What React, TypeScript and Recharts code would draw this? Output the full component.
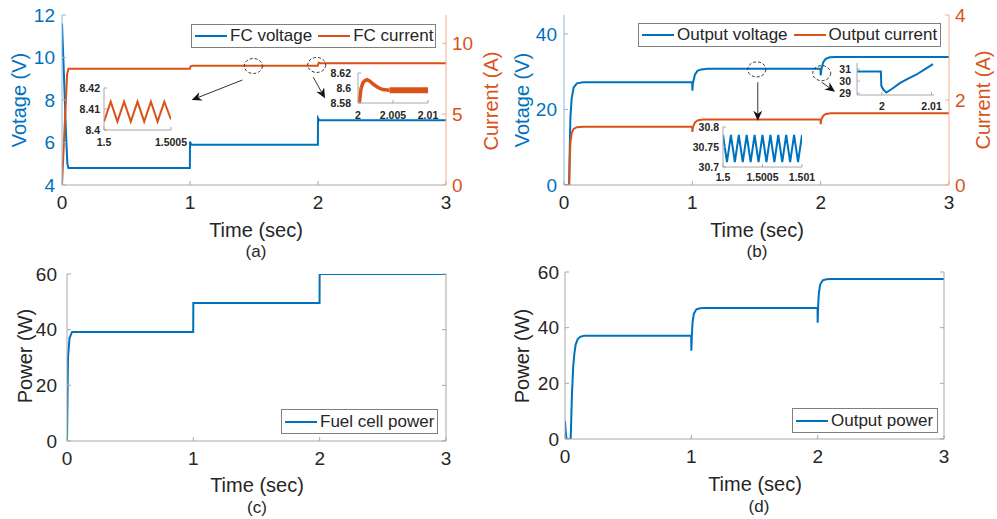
import {
  LineChart, Line, XAxis, YAxis, Legend, ReferenceDot, ReferenceLine, CartesianGrid,
} from 'recharts';

const BLUE = '#0072BD';
const ORANGE = '#D95319';
const BLUE_AXIS = '#86b9e0';
const ORANGE_AXIS = '#f2ad92';
const INK = '#262626';
const FRAME = '#a8a8a8';
const NOTE = '#333333';
const FONT = '"Liberation Sans", Arial, Helvetica, sans-serif';

/* ─── shared ticks ─────────────────────────────────── */
const timeTicks = [0, 1, 2, 3];

/* ─── (a) fuel cell voltage / current ───────────────── */
const fcNames = ['FC voltage', 'FC current'];
const fcVoltageTime = [0, 0.015, 0.03, 0.042, 0.05, 0.999, 1.0, 1.01, 1.999, 2.0, 2.01, 3.0];
const fcVoltage = [11.6, 9.2, 6.6, 5.0, 4.8, 4.8, 6.04, 5.9, 5.9, 7.15, 7.05, 7.05];
const fcCurrentTime = [0, 0.02, 0.04, 0.05, 0.999, 1.005, 1.02, 1.999, 2.005, 2.02, 3.0];
const fcCurrent = [0, 4.0, 7.8, 8.2, 8.2, 8.38, 8.41, 8.41, 8.63, 8.6, 8.6];
const fcVoltageTicks = [4, 6, 8, 10, 12];
const fcCurrentTicks = [0, 5, 10];

// inset: current ripple around t = 1.5 s
const rippleATime = [1.5, 1.50005, 1.5001, 1.50015, 1.5002, 1.50025, 1.5003, 1.50035, 1.5004, 1.50045, 1.5005];
const rippleACurrent = [8.404, 8.4135, 8.404, 8.4135, 8.404, 8.4135, 8.404, 8.4135, 8.404, 8.4135, 8.405];
const rippleATimeTicks = [1.5, 1.5005];
const rippleACurrentTicks = [8.4, 8.41, 8.42];

// inset: current step at t = 2 s
const stepATime = [2.0002, 2.0004, 2.0007, 2.001, 2.0013, 2.0017, 2.0022, 2.0028, 2.0035, 2.0045];
const stepACurrent = [8.58, 8.598, 8.607, 8.61, 8.611, 8.609, 8.605, 8.601, 8.598, 8.597];
const stepABandTime = [2.0045, 2.01];
const stepABand = [8.597, 8.597];
const stepATimeTicks = [2, 2.005, 2.01];
const stepACurrentTicks = [8.58, 8.6, 8.62];

/* ─── (b) output voltage / current ──────────────────── */
const outNames = ['Output voltage', 'Output current'];
const outVoltageTime = [0, 0.04, 0.045, 0.05, 0.06, 0.075, 0.1, 0.15, 0.999, 1.0, 1.005, 1.02, 1.04, 1.07, 1.12, 1.999, 2.0, 2.005, 2.02, 2.04, 2.07, 2.12, 3.0];
const outVoltage = [0, 0, 10, 18, 23, 25.8, 26.9, 27.2, 27.2, 25.0, 27.0, 29.2, 30.2, 30.6, 30.75, 30.75, 29.0, 30.5, 32.5, 33.4, 33.8, 33.9, 33.9];
const outCurrentTime = [0, 0.04, 0.045, 0.05, 0.06, 0.075, 0.1, 0.15, 0.999, 1.0, 1.005, 1.02, 1.04, 1.08, 1.999, 2.0, 2.005, 2.02, 2.04, 2.08, 3.0];
const outCurrent = [0, 0, 0.6, 1.0, 1.22, 1.32, 1.36, 1.37, 1.37, 1.25, 1.36, 1.47, 1.52, 1.54, 1.54, 1.43, 1.54, 1.63, 1.67, 1.69, 1.69];
const outVoltageTicks = [0, 20, 40];
const outCurrentTicks = [0, 2, 4];

// inset: voltage ripple around t = 1.5 s
const rippleBTime = [1.5, 1.50005, 1.5001, 1.50015, 1.5002, 1.50025, 1.5003, 1.50035, 1.5004, 1.50045, 1.5005,
  1.50055, 1.5006, 1.50065, 1.5007, 1.50075, 1.5008, 1.50085, 1.5009, 1.50095, 1.501];
const rippleBVoltage = [30.78, 30.712, 30.78, 30.712, 30.78, 30.712, 30.78, 30.712, 30.78, 30.712, 30.78,
  30.712, 30.78, 30.712, 30.78, 30.712, 30.78, 30.712, 30.78, 30.712, 30.78];
const rippleBTimeTicks = [1.5, 1.5005, 1.501];
const rippleBVoltageTicks = [30.7, 30.75, 30.8];

// inset: voltage dip at t = 2 s
const stepBTime = [1.995, 1.9998, 1.9999, 2.0003, 2.0009, 2.002, 2.0037, 2.0053, 2.007, 2.0087, 2.0103];
const stepBVoltage = [30.8, 30.8, 29.6, 29.3, 29.05, 29.35, 29.85, 30.2, 30.55, 31.0, 31.4];
const stepBTimeTicks = [2, 2.01];
const stepBVoltageTicks = [29, 30, 31];

/* ─── (c) fuel cell power, (d) output power ─────────── */
const fcPowerTime = [0, 0.008, 0.02, 0.04, 0.999, 1.0, 1.999, 2.0, 3.0];
const fcPower = [0, 30, 37, 39.2, 39.2, 49.6, 49.6, 60, 60];
const outPowerTime = [0, 0.005, 0.012, 0.045, 0.05, 0.055, 0.065, 0.075, 0.085, 0.1, 0.12, 0.15, 0.999, 1.0,
  1.005, 1.01, 1.02, 1.04, 1.07, 1.1, 1.999, 2.0, 2.005, 2.01, 2.02, 2.04, 2.07, 2.1, 3.0];
const outPower = [6.5, 3, 0, 0, 8, 16, 26, 31, 34, 35.8, 36.7, 37.1, 37.1, 31.7,
  38, 42, 45, 46.6, 47.0, 47.1, 47.1, 41.8, 49, 52.5, 55.5, 57, 57.4, 57.5, 57.5];
const powerTicks = [0, 20, 40, 60];

type Pt = { t: number; v: number };
const zip = (t: number[], v: number[]): Pt[] => t.map((x, k) => ({ t: x, v: v[k] }));
const blank = () => '';

/* ─── little drawing helpers ────────────────────────── */
const DashedRing = (p: any) => (
  <ellipse cx={p.cx} cy={p.cy} rx={9} ry={7.5} fill="none" stroke={NOTE} strokeWidth={1} strokeDasharray="3 2" />
);

const Arrow = (p: any) => {
  const { x1, y1, x2, y2 } = p;
  if ([x1, y1, x2, y2].some((n) => n == null || Number.isNaN(n))) return null;
  const a = Math.atan2(y2 - y1, x2 - x1);
  const c = Math.cos(a), s = Math.sin(a);
  const len = 10, half = 4.5, notch = 7;
  const bx = x2 - len * c, by = y2 - len * s;
  const nx = x2 - notch * c, ny = y2 - notch * s;
  const pts = `${x2},${y2} ${bx - half * s},${by + half * c} ${nx},${ny} ${bx + half * s},${by - half * c}`;
  return (
    <g>
      <line x1={x1} y1={y1} x2={nx} y2={ny} stroke={NOTE} strokeWidth={1} />
      <polygon points={pts} fill="#111" />
    </g>
  );
};

function LegendBox({ payload, order }: any) {
  const items = [...(payload ?? [])].sort((p: any, q: any) => order.indexOf(p.value) - order.indexOf(q.value));
  return (
    <div style={{
      display: 'flex', alignItems: 'center', height: '100%', boxSizing: 'border-box',
      border: '1px solid #7f7f7f', background: '#fff', padding: '0 3px',
      fontSize: 17, color: INK, whiteSpace: 'nowrap', fontFamily: FONT,
    }}>
      {items.map((e: any) => (
        <span key={e.value} style={{ display: 'flex', alignItems: 'center', marginRight: 6 }}>
          <span style={{ width: 32, height: 2, background: e.color, marginRight: 3 }} />
          {e.value}
        </span>
      ))}
    </div>
  );
}

function Caption({ x, y, text, color = INK, size = 20, vertical = false }: any) {
  return (
    <div style={{
      position: 'absolute', left: x, top: y, color, fontSize: size, lineHeight: 1, whiteSpace: 'nowrap',
      transform: `translate(-50%, -50%)${vertical ? ' rotate(-90deg)' : ''}`,
    }}>{text}</div>
  );
}

function Inset({ x, y, w, h, yw, xDomain, xTicks, yDomain, yTicks, xGap, yGap, children }: any) {
  const tick = { fill: INK, fontSize: 10.5, fontWeight: 700 };
  const edge = { stroke: FRAME };
  const top = 8;
  return (
    <div style={{ position: 'absolute', left: x - yw, top: y - top }}>
      <LineChart width={yw + w + 24} height={h + top + 28} margin={{ top, right: 24, bottom: 0, left: 0 }}>
        <CartesianGrid fill="#fff" horizontal={false} vertical={false} />
        <XAxis type="number" dataKey="t" domain={xDomain} ticks={xTicks} interval={0} height={28}
          tickSize={-3} tickMargin={xGap} tick={tick} axisLine={edge} tickLine={edge} allowDataOverflow />
        <XAxis xAxisId="top" orientation="top" type="number" dataKey="t" domain={xDomain} ticks={xTicks} height={0}
          tickSize={-3} tickFormatter={blank} axisLine={edge} tickLine={edge} allowDataOverflow />
        <YAxis type="number" domain={yDomain} ticks={yTicks} interval={0} width={yw}
          tickSize={-3} tickMargin={yGap} tick={tick} axisLine={edge} tickLine={edge} allowDataOverflow />
        <YAxis yAxisId="edge" orientation="right" type="number" domain={yDomain} ticks={yTicks} width={0}
          tickSize={-3} tickFormatter={blank} axisLine={edge} tickLine={edge} allowDataOverflow />
        {children}
      </LineChart>
    </div>
  );
}

const timeAxis = {
  type: 'number' as const, dataKey: 't', domain: [0, 3], ticks: timeTicks, interval: 0 as const,
  tickSize: -4, allowDataOverflow: true,
};
const frame = { stroke: FRAME };
const mainTick = { fill: INK, fontSize: 19 };

export default function App() {
  return (
    <div style={{ position: 'absolute', left: 0, top: 0, width: 997, height: 519, background: '#fff', fontFamily: FONT }}>
      {/* (a) */}
      <div style={{ position: 'absolute', left: 0, top: 0 }}>
        <LineChart width={497} height={225} margin={{ top: 15, right: 0, bottom: 0, left: 0 }}>
          <XAxis {...timeAxis} height={40} tickMargin={15} tick={mainTick} axisLine={frame} tickLine={frame} />
          <XAxis {...timeAxis} xAxisId="top" orientation="top" height={0} tickFormatter={blank} axisLine={frame} tickLine={frame} />
          <YAxis yAxisId="v" type="number" domain={[4, 12]} ticks={fcVoltageTicks} interval={0} width={62}
            tickSize={-4} tickMargin={11} tick={{ ...mainTick, fill: BLUE }}
            axisLine={{ stroke: BLUE_AXIS }} tickLine={{ stroke: BLUE_AXIS }} allowDataOverflow />
          <YAxis yAxisId="i" orientation="right" type="number" domain={[0, 12]} ticks={fcCurrentTicks} interval={0} width={51}
            tickSize={-4} tickMargin={10} tick={{ ...mainTick, fill: ORANGE }}
            axisLine={{ stroke: ORANGE_AXIS }} tickLine={{ stroke: ORANGE_AXIS }} allowDataOverflow />
          <Line yAxisId="v" data={zip(fcVoltageTime, fcVoltage)} dataKey="v" name={fcNames[0]} stroke={BLUE}
            strokeWidth={2} dot={false} activeDot={false} isAnimationActive={false} />
          <Line yAxisId="i" data={zip(fcCurrentTime, fcCurrent)} dataKey="v" name={fcNames[1]} stroke={ORANGE}
            strokeWidth={2} dot={false} activeDot={false} isAnimationActive={false} />
          <ReferenceDot yAxisId="v" x={1.495} y={9.6} shape={DashedRing} />
          <ReferenceDot yAxisId="v" x={1.99} y={9.65} shape={DashedRing} />
          <ReferenceLine yAxisId="v" segment={[{ x: 1.409, y: 8.94 }, { x: 1.013, y: 8.0 }]} shape={Arrow} />
          <ReferenceLine yAxisId="v" segment={[{ x: 1.963, y: 9.07 }, { x: 2.055, y: 8.08 }]} shape={Arrow} />
          <Legend layout="vertical" verticalAlign="middle" align="center"
            content={(p: any) => <LegendBox {...p} order={fcNames} />}
            wrapperStyle={{ left: 191, top: 24, width: 245, height: 24 }} />
        </LineChart>
      </div>

      {/* (b) */}
      <div style={{ position: 'absolute', left: 497, top: 0 }}>
        <LineChart width={500} height={225} margin={{ top: 15, right: 0, bottom: 0, left: 0 }}>
          <XAxis {...timeAxis} height={40} tickMargin={15} tick={mainTick} axisLine={frame} tickLine={frame} />
          <XAxis {...timeAxis} xAxisId="top" orientation="top" height={0} tickFormatter={blank} axisLine={frame} tickLine={frame} />
          <YAxis yAxisId="v" type="number" domain={[0, 45]} ticks={outVoltageTicks} interval={0} width={67}
            tickSize={-4} tickMargin={11} tick={{ ...mainTick, fill: BLUE }}
            axisLine={{ stroke: BLUE_AXIS }} tickLine={{ stroke: BLUE_AXIS }} allowDataOverflow />
          <YAxis yAxisId="i" orientation="right" type="number" domain={[0, 4]} ticks={outCurrentTicks} interval={0} width={48}
            tickSize={-4} tickMargin={10} tick={{ ...mainTick, fill: ORANGE }}
            axisLine={{ stroke: ORANGE_AXIS }} tickLine={{ stroke: ORANGE_AXIS }} allowDataOverflow />
          <Line yAxisId="v" data={zip(outVoltageTime, outVoltage)} dataKey="v" name={outNames[0]} stroke={BLUE}
            strokeWidth={2} dot={false} activeDot={false} isAnimationActive={false} />
          <Line yAxisId="i" data={zip(outCurrentTime, outCurrent)} dataKey="v" name={outNames[1]} stroke={ORANGE}
            strokeWidth={2} dot={false} activeDot={false} isAnimationActive={false} />
          <ReferenceDot yAxisId="v" x={1.502} y={30.6} shape={DashedRing} />
          <ReferenceDot yAxisId="v" x={2.008} y={29.6} shape={DashedRing} />
          <ReferenceLine yAxisId="v" segment={[{ x: 1.51, y: 27.2 }, { x: 1.51, y: 17.0 }]} shape={Arrow} />
          <ReferenceLine yAxisId="v" segment={[{ x: 2.008, y: 27.2 }, { x: 2.112, y: 24.7 }]} shape={Arrow} />
          <Legend layout="vertical" verticalAlign="middle" align="center"
            content={(p: any) => <LegendBox {...p} order={outNames} />}
            wrapperStyle={{ left: 141, top: 23, width: 303, height: 24 }} />
        </LineChart>
      </div>

      {/* (c) */}
      <div style={{ position: 'absolute', left: 0, top: 259 }}>
        <LineChart width={497} height={222} margin={{ top: 15, right: 0, bottom: 0, left: 0 }}>
          <XAxis {...timeAxis} height={40} tickMargin={15} tick={mainTick} axisLine={frame} tickLine={frame} />
          <XAxis {...timeAxis} xAxisId="top" orientation="top" height={0} tickFormatter={blank} axisLine={frame} tickLine={frame} />
          <YAxis type="number" domain={[0, 60]} ticks={powerTicks} interval={0} width={67}
            tickSize={-4} tickMargin={14} tick={mainTick} axisLine={frame} tickLine={frame} allowDataOverflow />
          <YAxis yAxisId="edge" orientation="right" type="number" domain={[0, 60]} ticks={powerTicks} width={51}
            tickSize={-4} tickFormatter={blank} axisLine={frame} tickLine={frame} allowDataOverflow />
          <Line data={zip(fcPowerTime, fcPower)} dataKey="v" name="Fuel cell power" stroke={BLUE}
            strokeWidth={2} dot={false} activeDot={false} isAnimationActive={false} />
          <Legend layout="vertical" verticalAlign="middle" align="center"
            content={(p: any) => <LegendBox {...p} order={['Fuel cell power']} />}
            wrapperStyle={{ left: 281, top: 150, width: 157, height: 25 }} />
        </LineChart>
      </div>

      {/* (d) */}
      <div style={{ position: 'absolute', left: 497, top: 257 }}>
        <LineChart width={500} height={222} margin={{ top: 15, right: 0, bottom: 0, left: 0 }}>
          <XAxis {...timeAxis} height={40} tickMargin={15} tick={mainTick} axisLine={frame} tickLine={frame} />
          <XAxis {...timeAxis} xAxisId="top" orientation="top" height={0} tickFormatter={blank} axisLine={frame} tickLine={frame} />
          <YAxis type="number" domain={[0, 60]} ticks={powerTicks} interval={0} width={68}
            tickSize={-4} tickMargin={10} tick={mainTick} axisLine={frame} tickLine={frame} allowDataOverflow />
          <YAxis yAxisId="edge" orientation="right" type="number" domain={[0, 60]} ticks={powerTicks} width={53}
            tickSize={-4} tickFormatter={blank} axisLine={frame} tickLine={frame} allowDataOverflow />
          <Line data={zip(outPowerTime, outPower)} dataKey="v" name="Output power" stroke={BLUE}
            strokeWidth={2} dot={false} activeDot={false} isAnimationActive={false} />
          <Legend layout="vertical" verticalAlign="middle" align="center"
            content={(p: any) => <LegendBox {...p} order={['Output power']} />}
            wrapperStyle={{ left: 295, top: 151, width: 146, height: 25 }} />
        </LineChart>
      </div>

      {/* insets */}
      <Inset x={104} y={88} w={67} h={42} yw={34} xDomain={[1.5, 1.5005]} xTicks={rippleATimeTicks}
        yDomain={[8.4, 8.42]} yTicks={rippleACurrentTicks} xGap={12} yGap={7}>
        <Line data={zip(rippleATime, rippleACurrent)} dataKey="v" stroke={ORANGE} strokeWidth={2}
          dot={false} activeDot={false} isAnimationActive={false} />
      </Inset>
      <Inset x={358} y={73} w={70} h={30} yw={36} xDomain={[2, 2.01]} xTicks={stepATimeTicks}
        yDomain={[8.58, 8.62]} yTicks={stepACurrentTicks} xGap={12} yGap={10}>
        <Line data={zip(stepATime, stepACurrent)} dataKey="v" stroke={ORANGE} strokeWidth={3.5}
          dot={false} activeDot={false} isAnimationActive={false} />
        <Line data={zip(stepABandTime, stepABand)} dataKey="v" stroke={ORANGE} strokeWidth={6}
          dot={false} activeDot={false} isAnimationActive={false} />
      </Inset>
      <Inset x={723} y={127} w={79} h={40} yw={40} xDomain={[1.5, 1.501]} xTicks={rippleBTimeTicks}
        yDomain={[30.7, 30.8]} yTicks={rippleBVoltageTicks} xGap={10} yGap={7}>
        <Line data={zip(rippleBTime, rippleBVoltage)} dataKey="v" stroke={BLUE} strokeWidth={2}
          dot={false} activeDot={false} isAnimationActive={false} />
      </Inset>
      <Inset x={857} y={63} w={77} h={32} yw={30} xDomain={[1.995, 2.0105]} xTicks={stepBTimeTicks}
        yDomain={[28.85, 31.5]} yTicks={stepBVoltageTicks} xGap={11} yGap={9}>
        <Line data={zip(stepBTime, stepBVoltage)} dataKey="v" stroke={BLUE} strokeWidth={2}
          dot={false} activeDot={false} isAnimationActive={false} />
      </Inset>

      {/* axis titles and panel captions */}
      <Caption x={19} y={100} text="Votage (V)" color={BLUE} vertical />
      <Caption x={491} y={101} text="Current (A)" color={ORANGE} vertical />
      <Caption x={256} y={230} text="Time (sec)" />
      <Caption x={256} y={251} text="(a)" size={17} />
      <Caption x={522} y={100} text="Votage (V)" color={BLUE} vertical />
      <Caption x={983} y={100} text="Current (A)" color={ORANGE} vertical />
      <Caption x={757} y={230} text="Time (sec)" />
      <Caption x={757} y={251} text="(b)" size={17} />
      <Caption x={25} y={356} text="Power (W)" vertical />
      <Caption x={257} y={485} text="Time (sec)" />
      <Caption x={257} y={507} text="(c)" size={17} />
      <Caption x={522} y={356} text="Power (W)" vertical />
      <Caption x={755} y={484} text="Time (sec)" />
      <Caption x={759} y={506} text="(d)" size={17} />
    </div>
  );
}
